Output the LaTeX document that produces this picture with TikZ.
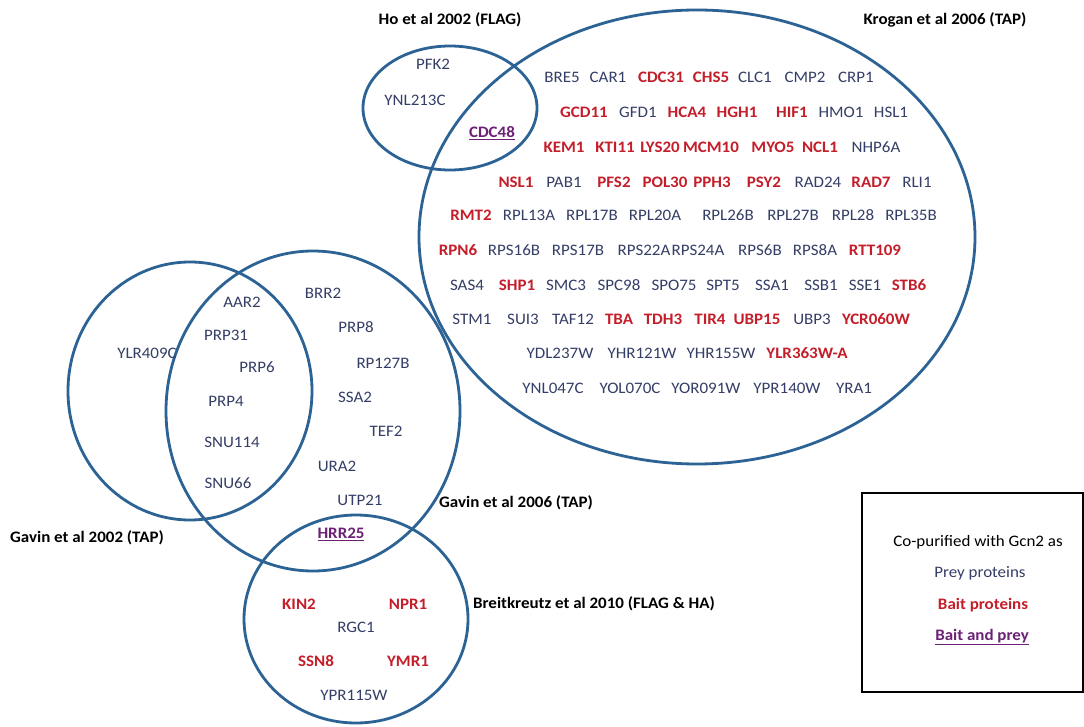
\documentclass[tikz,border=0pt]{standalone}
\usepackage{fontspec}
\setmainfont{Carlito}[FakeStretch=1.06]
\definecolor{ringblue}{RGB}{44,99,148}
\definecolor{preyblue}{RGB}{52,62,102}
\definecolor{baitred}{RGB}{196,30,42}
\definecolor{bothpurple}{RGB}{108,32,118}
\begin{document}
\begin{tikzpicture}[x=1pt,y=-1pt,
  ring/.style={draw=ringblue, line width=2.8pt},
  gene/.style={font=\fontsize{16}{19}\selectfont, inner sep=0pt},
  prey/.style={gene, text=preyblue},
  bait/.style={gene, text=baitred, font=\fontsize{16}{19}\selectfont\bfseries},
  both/.style={gene, text=bothpurple, font=\fontsize{16}{19}\selectfont\bfseries},
  study/.style={gene, text=black, font=\fontsize{16}{19}\selectfont\bfseries},
  note/.style={gene, text=black}]
\useasboundingbox (0,0) rectangle (1084,727);
\fill[white] (0,0) rectangle (1084,727);

% study sets
\draw[ring] (450,108) ellipse [x radius=87, y radius=62];
\draw[ring] (697,237) ellipse [x radius=278, y radius=227];
\draw[ring] (190,391) ellipse [x radius=122, y radius=129];
\draw[ring] (313,411) ellipse [x radius=147, y radius=160];
\draw[ring] (356,619) ellipse [x radius=112, y radius=104];

% study labels
\node[study] (ho)    at (450,20)  {Ho et al 2002 (FLAG)};
\node[study] (krog)  at (945,20)  {Krogan et al 2006 (TAP)};
\node[study] (gav02) at (87,538)  {Gavin et al 2002 (TAP)};
\node[study] (gav06) at (516,503) {Gavin et al 2006 (TAP)};
\node[study] (breit) at (594,604) {Breitkreutz et al 2010 (FLAG \& HA)};

% Ho et al
\node[prey] (pfk2)    at (433,64)  {PFK2};
\node[prey] (ynl213c) at (415,100) {YNL213C};
\node[both] (cdc48)   at (492,133) {\underline{CDC48}};

% Krogan et al, row 1
\node[prey] (bre5)  at (562,77) {BRE5};
\node[prey] (car1)  at (608,77) {CAR1};
\node[bait] (cdc31) at (661,77) {CDC31};
\node[bait] (chs5)  at (711,77) {CHS5};
\node[prey] (clc1)  at (755,77) {CLC1};
\node[prey] (cmp2)  at (805,77) {CMP2};
\node[prey] (crp1)  at (856,77) {CRP1};
% row 2
\node[bait] (gcd11) at (584,112) {GCD11};
\node[prey] (gfd1)  at (638,112) {GFD1};
\node[bait] (hca4)  at (687,112) {HCA4};
\node[bait] (hgh1)  at (737,112) {HGH1};
\node[bait] (hif1)  at (792,112) {HIF1};
\node[prey] (hmo1)  at (841,112) {HMO1};
\node[prey] (hsl1)  at (891,112) {HSL1};
% row 3
\node[bait] (kem1)  at (564,147) {KEM1};
\node[bait] (kti11) at (615,147) {KTI11};
\node[bait] (lys20) at (660,147) {LYS20};
\node[bait] (mcm10) at (711,147) {MCM10};
\node[bait] (myo5)  at (773,147) {MYO5};
\node[bait] (ncl1)  at (820,147) {NCL1};
\node[prey] (nhp6a) at (876,147) {NHP6A};
% row 4
\node[bait] (nsl1)  at (516,182) {NSL1};
\node[prey] (pab1)  at (564,182) {PAB1};
\node[bait] (pfs2)  at (614,182) {PFS2};
\node[bait] (pol30) at (665,182) {POL30};
\node[bait] (pph3)  at (712,182) {PPH3};
\node[bait] (psy2)  at (764,182) {PSY2};
\node[prey] (rad24) at (818,182) {RAD24};
\node[bait] (rad7)  at (871,182) {RAD7};
\node[prey] (rli1)  at (917,182) {RLI1};
% row 5
\node[bait] (rmt2)   at (471,215) {RMT2};
\node[prey] (rpl13a) at (529,215) {RPL13A};
\node[prey] (rpl17b) at (592,215) {RPL17B};
\node[prey] (rpl20a) at (655,215) {RPL20A};
\node[prey] (rpl26b) at (728,215) {RPL26B};
\node[prey] (rpl27b) at (793,215) {RPL27B};
\node[prey] (rpl28)  at (853,215) {RPL28};
\node[prey] (rpl35b) at (911,215) {RPL35B};
% row 6
\node[bait] (rpn6)   at (458,250) {RPN6};
\node[prey] (rps16b) at (514,250) {RPS16B};
\node[prey] (rps17b) at (578,250) {RPS17B};
\node[prey] (rps22a) at (644,250) {RPS22A};
\node[prey] (rps24a) at (698,250) {RPS24A};
\node[prey] (rps6b)  at (760,250) {RPS6B};
\node[prey] (rps8a)  at (815,250) {RPS8A};
\node[bait] (rtt109) at (875,250) {RTT109};
% row 7
\node[prey] (sas4)  at (467,285) {SAS4};
\node[bait] (shp1)  at (517,285) {SHP1};
\node[prey] (smc3)  at (566,285) {SMC3};
\node[prey] (spc98) at (619,285) {SPC98};
\node[prey] (spo75) at (674,285) {SPO75};
\node[prey] (spt5)  at (723,285) {SPT5};
\node[prey] (ssa1)  at (772,285) {SSA1};
\node[prey] (ssb1)  at (821,285) {SSB1};
\node[prey] (sse1)  at (865,285) {SSE1};
\node[bait] (stb6)  at (909,285) {STB6};
% row 8
\node[prey] (stm1)    at (472,319) {STM1};
\node[prey] (sui3)    at (523,319) {SUI3};
\node[prey] (taf12)   at (573,319) {TAF12};
\node[bait] (tba)     at (619,319) {TBA};
\node[bait] (tdh3)    at (663,319) {TDH3};
\node[bait] (tir4)    at (710,319) {TIR4};
\node[bait] (ubp15)   at (757,319) {UBP15};
\node[prey] (ubp3)    at (812,319) {UBP3};
\node[bait] (ycr060w) at (876,319) {YCR060W};
% row 9
\node[prey] (ydl237w)  at (560,353) {YDL237W};
\node[prey] (yhr121w)  at (642,353) {YHR121W};
\node[prey] (yhr155w)  at (721,353) {YHR155W};
\node[bait] (ylr363wa) at (807,353) {YLR363W-A};
% row 10
\node[prey] (ynl047c) at (553,388) {YNL047C};
\node[prey] (yol070c) at (630,388) {YOL070C};
\node[prey] (yor091w) at (706,388) {YOR091W};
\node[prey] (ypr140w) at (787,388) {YPR140W};
\node[prey] (yra1)    at (854,388) {YRA1};

% Gavin et al 2002 only
\node[prey] (ylr409c) at (147,353) {YLR409C};
% Gavin et al 2002 and 2006
\node[prey] (aar2)   at (242,302) {AAR2};
\node[prey] (prp31)  at (226,335) {PRP31};
\node[prey] (prp6)   at (257,367) {PRP6};
\node[prey] (prp4)   at (226,401) {PRP4};
\node[prey] (snu114) at (232,442) {SNU114};
\node[prey] (snu66)  at (228,483) {SNU66};
% Gavin et al 2006 only
\node[prey] (brr2)   at (323,293) {BRR2};
\node[prey] (prp8)   at (356,327) {PRP8};
\node[prey] (rp127b) at (383,363) {RP127B};
\node[prey] (ssa2)   at (355,397) {SSA2};
\node[prey] (tef2)   at (386,431) {TEF2};
\node[prey] (ura2)   at (337,466) {URA2};
\node[prey] (utp21)  at (360,500) {UTP21};
% Gavin et al 2006 and Breitkreutz et al
\node[both] (hrr25)  at (341,534) {\underline{HRR25}};

% Breitkreutz et al
\node[bait] (kin2)    at (299,604) {KIN2};
\node[bait] (npr1)    at (408,604) {NPR1};
\node[prey] (rgc1)    at (356,627) {RGC1};
\node[bait] (ssn8)    at (316,661) {SSN8};
\node[bait] (ymr1)    at (408,661) {YMR1};
\node[prey] (ypr115w) at (354,695) {YPR115W};

% key
\draw[line width=1.8pt] (862,493) rectangle (1083,692);
\node[note] (keyhead) at (978,542) {Co-purified with Gcn2 as};
\node[prey] (keyprey) at (980,573) {Prey proteins};
\node[bait] (keybait) at (983,605) {Bait proteins};
\node[both] (keyboth) at (982,637) {\underline{Bait and prey}};
\end{tikzpicture}
\end{document}
